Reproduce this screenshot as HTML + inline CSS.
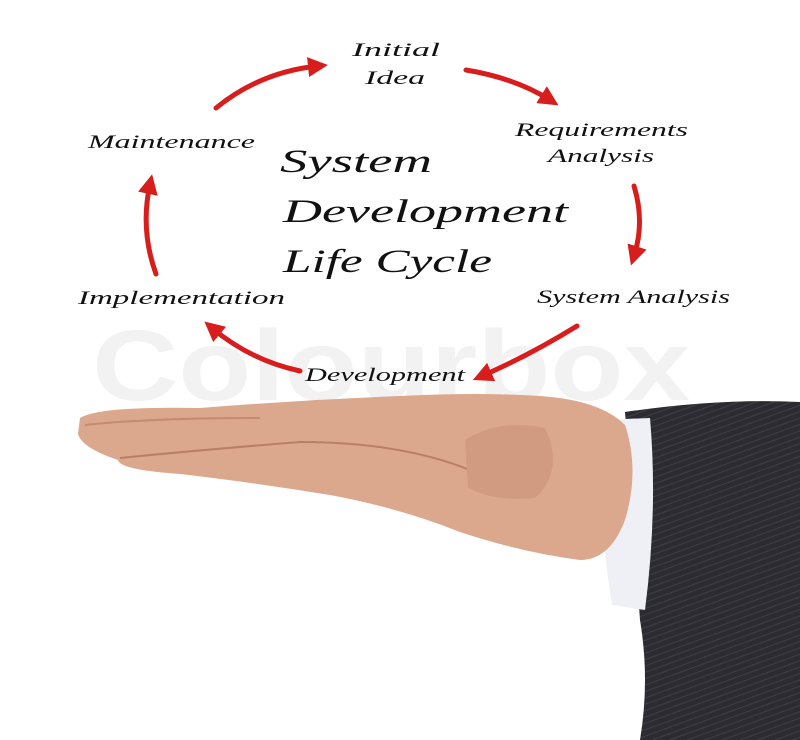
<!DOCTYPE html>
<html><head><meta charset="utf-8"><style>
html,body{margin:0;padding:0;background:#fff;}
svg{display:block;}
.l{font-family:"Liberation Serif",serif;font-style:italic;fill:#111;}
</style></head><body>
<svg width="800" height="740" viewBox="0 0 800 740" xmlns="http://www.w3.org/2000/svg">
<defs>
<marker id="ah" markerWidth="4" markerHeight="4" refX="2" refY="2" orient="auto" markerUnits="strokeWidth">
<path d="M0,0 L4,2 L0,4 z" fill="#d81d1d"/></marker>
<pattern id="stripe" width="6" height="6" patternUnits="userSpaceOnUse" patternTransform="rotate(70)">
<rect width="6" height="6" fill="#2b2b31"/><line x1="0" y1="0" x2="0" y2="6" stroke="#45454d" stroke-width="1.5"/></pattern>
</defs>
<text x="92" y="400" textLength="598" lengthAdjust="spacingAndGlyphs" style="font-family:'Liberation Sans',sans-serif;font-weight:bold;font-size:100px;fill:#f2f2f2">Colourbox</text>
<g fill="none" stroke="#d81d1d" stroke-width="5" stroke-linecap="round" marker-end="url(#ah)">
<path d="M216,108 Q260,72 318,66"/>
<path d="M466,70 Q515,78 550,100"/>
<path d="M634,186 Q645,222 634,256"/>
<path d="M577,326 Q530,355 482,376"/>
<path d="M300,371 Q250,360 212,328"/>
<path d="M156,274 Q140,230 150,184"/>
</g>
<g class="l" font-size="19">
<text class="l" x="352" y="56" textLength="88" lengthAdjust="spacingAndGlyphs">Initial</text>
<text class="l" x="365" y="84" textLength="60" lengthAdjust="spacingAndGlyphs">Idea</text>
<text class="l" x="515" y="136" textLength="173" lengthAdjust="spacingAndGlyphs">Requirements</text>
<text class="l" x="548" y="162" textLength="106" lengthAdjust="spacingAndGlyphs">Analysis</text>
<text class="l" x="537" y="303" textLength="193" lengthAdjust="spacingAndGlyphs">System Analysis</text>
<text class="l" x="305" y="381" textLength="160" lengthAdjust="spacingAndGlyphs">Development</text>
<text class="l" x="78" y="304" textLength="207" lengthAdjust="spacingAndGlyphs">Implementation</text>
<text class="l" x="88" y="148" textLength="167" lengthAdjust="spacingAndGlyphs">Maintenance</text>
</g>
<g font-size="33">
<text class="l" x="280" y="172" textLength="152" lengthAdjust="spacingAndGlyphs">System</text>
<text class="l" x="283" y="222" textLength="285" lengthAdjust="spacingAndGlyphs">Development</text>
<text class="l" x="283" y="272" textLength="209" lengthAdjust="spacingAndGlyphs">Life Cycle</text>
</g>
<!-- sleeve -->
<path d="M625,412 Q720,398 800,402 L800,740 L640,740 Q650,680 640,620 Z" fill="url(#stripe)"/>
<!-- cuff -->
<path d="M600,420 L650,418 Q658,510 645,610 L612,605 Q598,520 600,420 Z" fill="#eef0f5"/>
<!-- hand -->
<path d="M80,418 Q100,406 200,408 Q300,400 400,396 Q480,392 540,396 Q600,400 625,425 Q640,470 625,520 Q610,560 580,560 Q520,552 460,532 Q400,508 330,495 Q250,482 180,474 Q120,470 118,460 Q82,448 78,434 Z" fill="#dba88e"/>
<path d="M120,458 Q200,450 300,442 Q400,442 470,470" fill="none" stroke="#b97f66" stroke-width="2"/>
<path d="M465,440 Q500,418 545,428 Q565,470 535,498 Q495,502 468,488 Z" fill="#d09b80"/>
<path d="M85,425 Q150,418 260,418" fill="none" stroke="#c48b71" stroke-width="2"/>
</svg>
</body></html>
